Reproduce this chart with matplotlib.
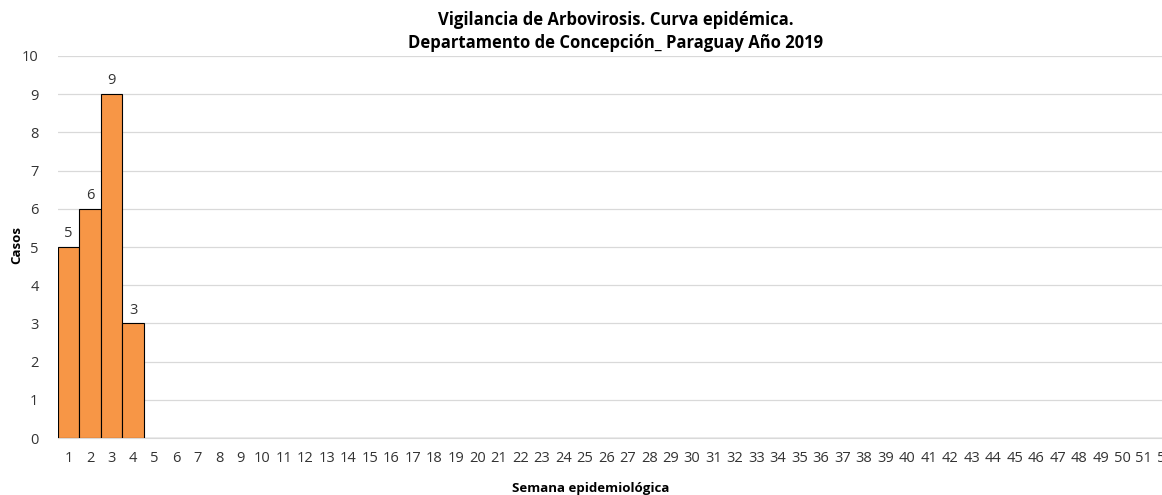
import matplotlib
matplotlib.use("Agg")
import matplotlib.pyplot as plt

semanas = [str(i) for i in range(1, 53)]
casos = [5, 6, 9, 3] + [0] * 48

plt.rcParams['font.family'] = ['Open Sans', 'DejaVu Sans']

fig = plt.figure(figsize=(11.62, 4.95), dpi=100)
ax = fig.add_axes([0.0499, 0.115, 0.962, 0.772])

x = list(range(len(semanas)))
bars = ax.bar(x, casos, width=1.0, color='#F79646', edgecolor='black', linewidth=0.8, zorder=3)
for xi, v in zip(x, casos):
    if v > 0:
        ax.text(xi, v + 0.15, str(v), ha='center', va='bottom', fontsize=10.5, color='#333333')

ax.set_xlim(-0.5, len(semanas) - 0.5)
ax.set_ylim(0, 10)
ax.set_yticks(range(0, 11))
ax.set_xticks(x)
ax.set_xticklabels(semanas)
ax.tick_params(axis='both', length=0, labelsize=10.5, colors='#333333')
ax.tick_params(axis='x', pad=9)
ax.tick_params(axis='y', pad=14)
ax.grid(axis='y', color='#d9d9d9', linewidth=0.9, zorder=0)
for s in ['top', 'right', 'left']:
    ax.spines[s].set_visible(False)
ax.spines['bottom'].set_color('#d9d9d9')

fig.text(0.53, 0.937, 'Vigilancia de Arbovirosis. Curva epidémica.\nDepartamento de Concepción_ Paraguay Año 2019',
         ha='center', va='center', fontsize=12, fontweight='bold', linespacing=1.35)
fig.text(0.508, 0.0, 'Semana epidemiológica', ha='center', va='bottom', fontsize=9.5, fontweight='bold')
fig.text(0.014, 0.505, 'Casos', ha='center', va='center', rotation=90, fontsize=9.5, fontweight='bold')

fig.savefig('out.png', dpi=100)
